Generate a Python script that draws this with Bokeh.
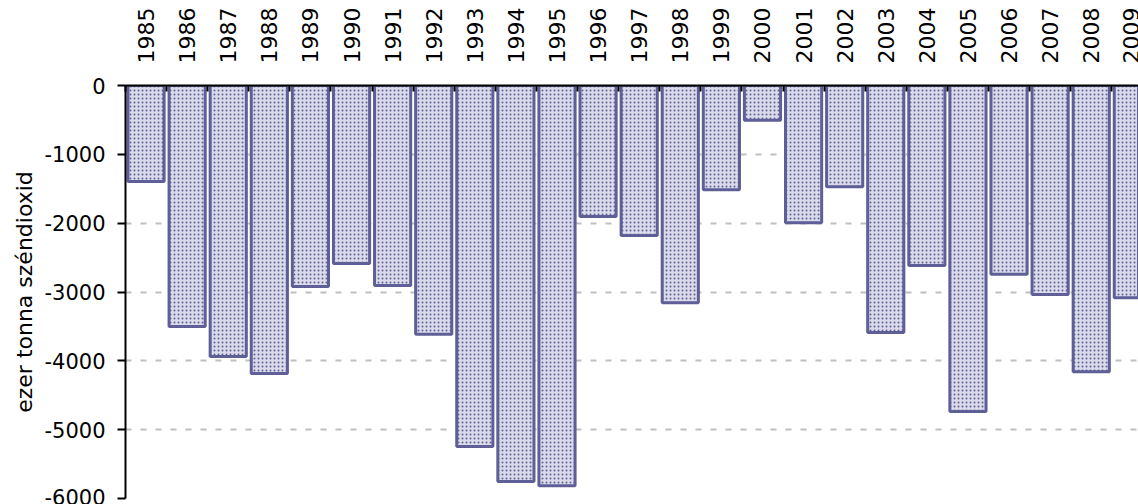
import math
from bokeh.plotting import figure
from bokeh.models import Range1d, FixedTicker, LinearAxis, ColumnDataSource
from bokeh.embed import file_html
from bokeh.resources import INLINE

years = ["1985", "1986", "1987", "1988", "1989", "1990", "1991", "1992", "1993",
         "1994", "1995", "1996", "1997", "1998", "1999", "2000", "2001", "2002",
         "2003", "2004", "2005", "2006", "2007", "2008", "2009"]
values = [-1395, -3500, -3937, -4184, -2920, -2586, -2906, -3613, -5245,
          -5753, -5816, -1903, -2180, -3157, -1516, -504, -1995, -1472,
          -3589, -2615, -4736, -2741, -3036, -4160, -3085]
y_ticks = [-6000, -5000, -4000, -3000, -2000, -1000, 0]
y_label = "ezer tonna széndioxid"

FONT = "DejaVu Sans"
BAR = "#5f5f98"

n = len(years)
centers = [i + 0.5 for i in range(n)]
bounds = list(range(n + 1))

src = ColumnDataSource(dict(x=centers, top=[0] * n, bottom=values, year=years))

p = figure(width=1138, height=504, output_backend="svg", toolbar_location=None,
           x_range=Range1d(0, 24.65), y_range=Range1d(-6000, 0),
           x_axis_location=None, y_axis_location=None,
           min_border_left=125, min_border_top=85, min_border_right=0,
           min_border_bottom=6)
p.outline_line_color = None
p.background_fill_color = "white"
p.border_fill_color = "white"

p.vbar(x="x", top="top", bottom="bottom", width=0.88, source=src,
       fill_color="#dadaea", line_color=BAR, line_width=3,
       hatch_pattern="dot", hatch_color=BAR, hatch_scale=4, hatch_weight=6)

# top axis
xa = LinearAxis(ticker=FixedTicker(ticks=centers, minor_ticks=bounds))
xa.major_label_overrides = {c: y for c, y in zip(centers, years)}
xa.major_label_orientation = math.pi / 2
xa.major_tick_line_color = None
xa.major_tick_in = 0
xa.major_tick_out = 0
xa.minor_tick_in = 6
xa.minor_tick_out = 0
xa.minor_tick_line_color = "black"
xa.minor_tick_line_width = 2
xa.axis_line_color = "black"
xa.axis_line_width = 2
xa.major_label_standoff = 22
xa.major_label_text_font = FONT
xa.major_label_text_font_size = "22px"
xa.major_label_text_color = "black"
p.add_layout(xa, "above")

# left axis
ya = LinearAxis(ticker=FixedTicker(ticks=y_ticks))
ya.major_label_overrides = {t: str(t) for t in y_ticks}
ya.axis_label = y_label
ya.axis_label_text_font = FONT
ya.axis_label_text_font_size = "22px"
ya.axis_label_text_font_style = "normal"
ya.axis_label_text_color = "black"
ya.axis_label_standoff = 4
ya.major_tick_in = 0
ya.major_tick_out = 8
ya.major_tick_line_width = 2
ya.major_tick_line_color = "black"
ya.minor_tick_line_color = None
ya.axis_line_color = "black"
ya.axis_line_width = 2
ya.major_label_standoff = 12
ya.major_label_text_font = FONT
ya.major_label_text_font_size = "21px"
ya.major_label_text_color = "black"
p.add_layout(ya, "left")

p.xgrid.visible = False
p.ygrid.ticker = FixedTicker(ticks=y_ticks)
p.ygrid.grid_line_color = "#bfbfbf"
p.ygrid.grid_line_width = 2
p.ygrid.grid_line_dash = "6 9"

open("out.html", "w").write(file_html(p, INLINE))
